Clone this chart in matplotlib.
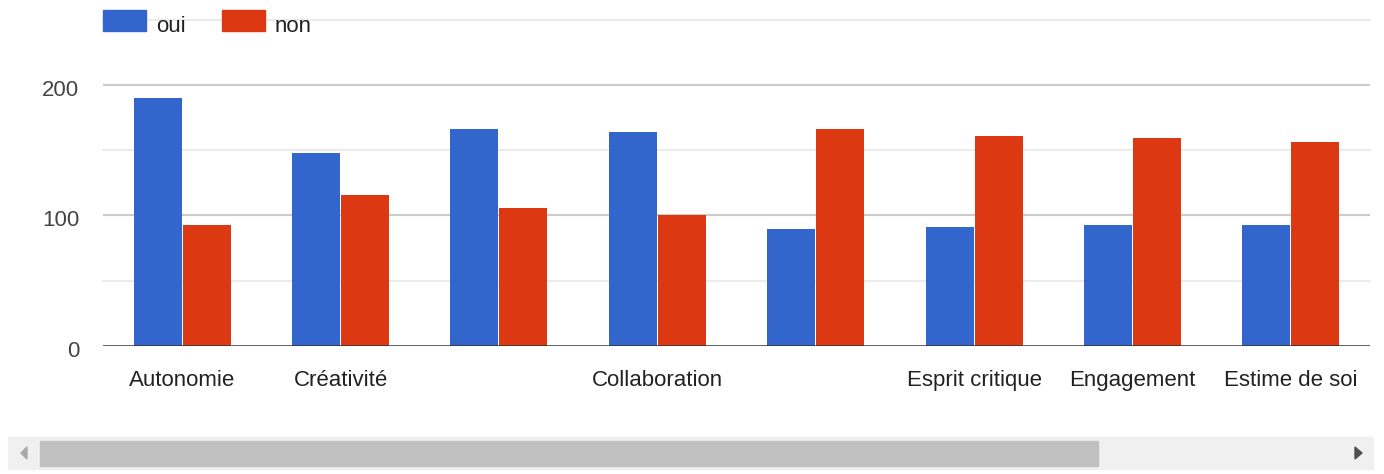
import matplotlib
matplotlib.use("Agg")
import matplotlib.pyplot as plt
import matplotlib.transforms as mtransforms
from matplotlib.patches import Rectangle, Polygon
import numpy as np

plt.rcParams['font.family'] = ['Liberation Sans', 'DejaVu Sans']

# data
categories = ["Autonomie", "Créativité", "", "Collaboration", "",
              "Esprit critique", "Engagement", "Estime de soi"]
oui = [190, 148, 166, 164, 90, 91, 93, 93]
non = [93, 116, 106, 100, 166, 161, 159, 156]
series_names = ["oui", "non"]
colors = ["#3366cc", "#dc3912"]

W, H = 1384, 474
fig = plt.figure(figsize=(W / 100, H / 100), dpi=100)

def fx(px):
    return px / W

def fy(py):
    return 1 - py / H

ax = fig.add_axes([fx(103), fy(346), fx(1370) - fx(103), fy(19.7) - fy(346)])

x = np.arange(len(categories))
bw = 0.303
ax.bar(x - 0.155, oui, bw, color=colors[0], zorder=3)
ax.bar(x + 0.155, non, bw, color=colors[1], zorder=3)

ax.set_xlim(-0.5, len(categories) - 0.5)
ax.set_ylim(0, 250)

for v in [50, 150, 250]:
    ax.axhline(v, color="#ebebeb", lw=1.5, zorder=1, clip_on=False)
for v in [100, 200]:
    ax.axhline(v, color="#cccccc", lw=1.5, zorder=1)
ax.axhline(0, color="#333333", lw=1.8, zorder=4)

ax.set_yticks([0, 100, 200])
ax.set_yticklabels(["0", "100", "200"], fontsize=16, color="#444444")
ax.set_xticks(x)
ax.set_xticklabels(categories, fontsize=16, color="#222222")
ax.tick_params(axis="y", length=0, pad=17)
ax.tick_params(axis="x", length=0, pad=17)
shift = mtransforms.ScaledTranslation(0, -3 / 100, fig.dpi_scale_trans)
for lbl in ax.get_yticklabels():
    lbl.set_transform(lbl.get_transform() + shift)
for s in ax.spines.values():
    s.set_visible(False)

# legend
for i, (name, c) in enumerate(zip(series_names, colors)):
    x0 = 103 + i * 119
    fig.add_artist(Rectangle((fx(x0), fy(31)), fx(43), fy(10) - fy(31),
                             transform=fig.transFigure, color=c, zorder=5))
    fig.text(fx(x0 + 53), fy(27), name, fontsize=16, color="#222222",
             va="center", ha="left")

# scrollbar
fig.add_artist(Rectangle((fx(8), fy(469)), fx(1365), fy(437) - fy(469),
                         transform=fig.transFigure, color="#f0f0f0"))
fig.add_artist(Rectangle((fx(40), fy(466)), fx(1058), fy(441) - fy(466),
                         transform=fig.transFigure, color="#c0c0c0"))
fig.add_artist(Polygon([(fx(27), fy(447)), (fx(27), fy(459)), (fx(21), fy(453))],
                       closed=True, transform=fig.transFigure, color="#a8a8a8"))
fig.add_artist(Polygon([(fx(1355), fy(447)), (fx(1355), fy(459)), (fx(1362), fy(453))],
                       closed=True, transform=fig.transFigure, color="#505050"))

fig.savefig("out.png", dpi=100)
